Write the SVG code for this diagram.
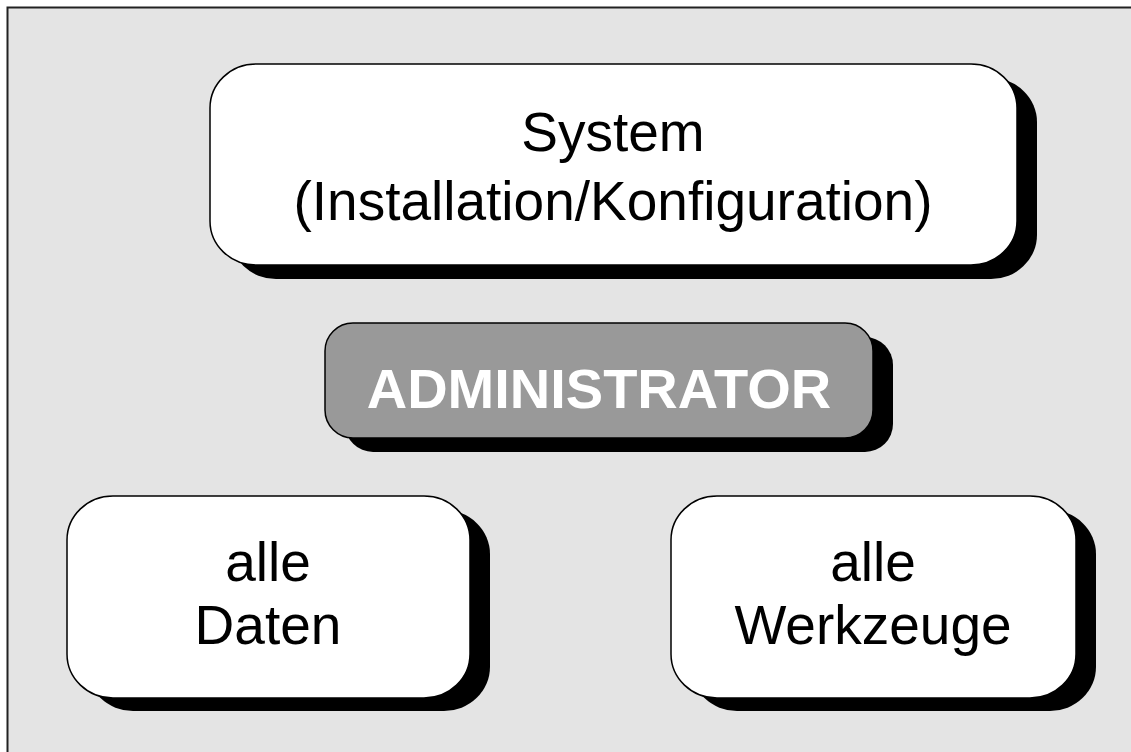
<svg xmlns="http://www.w3.org/2000/svg" width="1131" height="752" viewBox="0 0 1131 752">
<style>
.shadow{fill:#000}
.box{fill:#fff;stroke:#000;stroke-width:1.5}
.admin{fill:#999;stroke:#000;stroke-width:1.5}
.t{font-family:"Liberation Sans",Arial,sans-serif;font-size:55px;fill:#000;text-anchor:middle}
.tb{font-family:"Liberation Sans",Arial,sans-serif;font-size:56px;font-weight:bold;fill:#fff;text-anchor:middle}
</style>
<rect x="7.5" y="7.5" width="1130" height="750" fill="#e4e4e4" stroke="#222" stroke-width="2"/>
<g id="system">
<rect class="shadow" x="230" y="78" width="807" height="201" rx="46" ry="44"/>
<rect class="box" x="210" y="64" width="807" height="201" rx="46" ry="44"/>
<text class="t" x="613" y="151">System</text>
<text class="t" x="613" y="220">(Installation/Konfiguration)</text>
</g>
<g id="administrator">
<rect class="shadow" x="345" y="337" width="548" height="115" rx="28" ry="28"/>
<rect class="admin" x="325" y="323" width="548" height="115" rx="28" ry="28"/>
<text class="tb" x="599" y="408">ADMINISTRATOR</text>
</g>
<g id="daten">
<rect class="shadow" x="87" y="510" width="403" height="201" rx="46" ry="44"/>
<rect class="box" x="67" y="496" width="403" height="202" rx="46" ry="44"/>
<text class="t" x="268" y="581">alle</text>
<text class="t" x="268" y="644">Daten</text>
</g>
<g id="werkzeuge">
<rect class="shadow" x="691" y="510" width="405" height="201" rx="46" ry="44"/>
<rect class="box" x="671" y="496" width="405" height="202" rx="46" ry="44"/>
<text class="t" x="873" y="581">alle</text>
<text class="t" x="873" y="644">Werkzeuge</text>
</g>
<g id="connectors"></g>
</svg>
